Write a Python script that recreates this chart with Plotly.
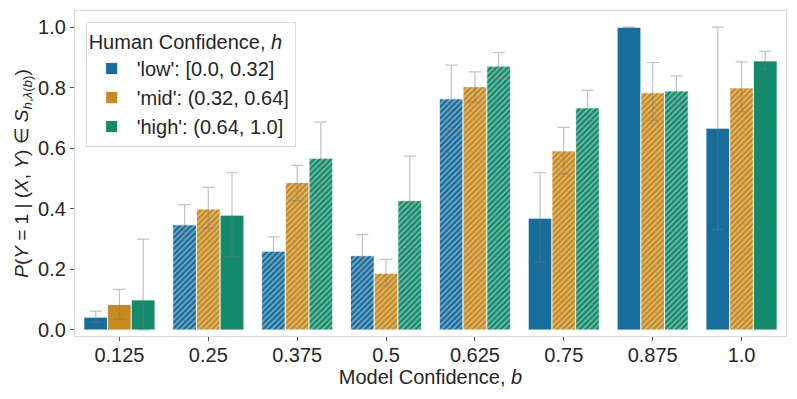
import plotly.graph_objects as go

# model confidence bins (x categories)
bins = ["0.125", "0.25", "0.375", "0.5", "0.625", "0.75", "0.875", "1.0"]

# mean P(Y=1) per human-confidence group
low_vals = [0.042, 0.347, 0.260, 0.245, 0.763, 0.369, 0.999, 0.666]
mid_vals = [0.084, 0.399, 0.487, 0.187, 0.803, 0.591, 0.783, 0.799]
high_vals = [0.099, 0.379, 0.567, 0.427, 0.871, 0.733, 0.789, 0.888]

# error bar bounds (lower, upper)
low_lo = [0.026, 0.297, 0.221, 0.180, 0.660, 0.223, 0.997, 0.332]
low_hi = [0.062, 0.414, 0.307, 0.315, 0.874, 0.519, 1.000, 1.000]
mid_lo = [0.035, 0.336, 0.427, 0.145, 0.752, 0.515, 0.693, 0.720]
mid_hi = [0.134, 0.471, 0.543, 0.233, 0.852, 0.669, 0.883, 0.885]
high_lo = [0.000, 0.242, 0.451, 0.280, 0.830, 0.680, 0.739, 0.860]
high_hi = [0.300, 0.519, 0.686, 0.574, 0.916, 0.791, 0.839, 0.920]

# True where the bar is drawn hatched
low_hatch = [False, True, True, True, True, False, False, False]
mid_hatch = [False, True, True, True, True, True, True, True]
high_hatch = [False, False, True, True, True, True, True, False]

names = ["'low': [0.0, 0.32]", "'mid': (0.32, 0.64]", "'high': (0.64, 1.0]"]
colors = ["#176d9c", "#c6891f", "#138a69"]

FONT = "Liberation Sans, Arial, sans-serif"
FS = 20


def bar_trace(name, vals, lo, hi, hatch, color):
    return go.Bar(
        name=name,
        x=bins,
        y=vals,
        marker=dict(
            color=color,
            line=dict(color="rgba(255,255,255,0.8)", width=1),
            pattern=dict(
                shape=["/" if h else "" for h in hatch],
                fgcolor="white",
                bgcolor=color,
                size=4,
                solidity=0.35,
                fillmode="overlay",
            ),
        ),
        error_y=dict(
            type="data",
            symmetric=False,
            array=[h - v for h, v in zip(hi, vals)],
            arrayminus=[v - l for v, l in zip(vals, lo)],
            color="rgba(120,120,120,0.45)",
            thickness=1.2,
            width=6,
        ),
    )


fig = go.Figure()
fig.add_trace(bar_trace(names[0], low_vals, low_lo, low_hi, low_hatch, colors[0]))
fig.add_trace(bar_trace(names[1], mid_vals, mid_lo, mid_hi, mid_hatch, colors[1]))
fig.add_trace(bar_trace(names[2], high_vals, high_lo, high_hi, high_hatch, colors[2]))

# the page body adds an 8px offset, so the figure is drawn 8px smaller
fig.update_layout(
    width=789,
    height=391,
    margin=dict(l=67, r=11, t=3, b=63),
    barmode="group",
    bargap=0.2,
    bargroupgap=0.0,
    plot_bgcolor="white",
    paper_bgcolor="white",
    font=dict(family=FONT, size=FS, color="#262626"),
    legend=dict(
        title=dict(text="Human Confidence, <i>h</i>", font=dict(size=FS)),
        x=0.015,
        y=0.966,
        xanchor="left",
        yanchor="top",
        bgcolor="white",
        bordercolor="#d9d9d9",
        borderwidth=1,
        font=dict(size=FS),
        itemwidth=40,
    ),
    xaxis=dict(
        range=[-0.5, 7.5],
        automargin=False,
        showline=True,
        linecolor="#d9d9d9",
        linewidth=1.3,
        mirror=True,
        ticks="outside",
        ticklen=4,
        tickcolor="#555",
        ticklabelstandoff=-3,
        title=dict(text="Model Confidence, <i>b</i>", font=dict(size=FS), standoff=0),
        showgrid=False,
    ),
    yaxis=dict(
        range=[-0.02, 1.053],
        automargin=False,
        tickvals=[0.0, 0.2, 0.4, 0.6, 0.8, 1.0],
        ticktext=["0.0", "0.2", "0.4", "0.6", "0.8", "1.0"],
        showline=True,
        linecolor="#d9d9d9",
        linewidth=1.3,
        mirror=True,
        ticks="outside",
        ticklen=4,
        tickcolor="#555",
        showgrid=False,
        zeroline=False,
        title=dict(
            text="<i>P</i>(<i>Y</i> = 1 | (<i>X</i>, <i>Y</i>) ∈ <i>S</i><sub><i>h</i>,<i>λ</i>(<i>b</i>)</sub>)",
            font=dict(size=19),
            standoff=4,
        ),
    ),
)

fig.write_html("out.html")
